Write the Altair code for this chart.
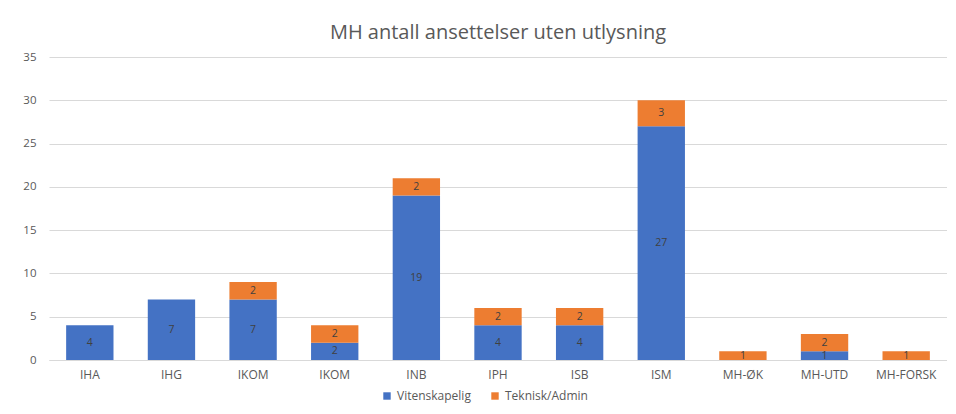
import altair as alt
import pandas as pd

categories = ["IHA", "IHG", "IKOM", "IKOM", "INB", "IPH", "ISB", "ISM", "MH-ØK", "MH-UTD", "MH-FORSK"]
vitenskapelig = [4, 7, 7, 2, 19, 4, 4, 27, 0, 1, 0]
teknisk_admin = [0, 0, 2, 2, 2, 2, 2, 3, 1, 2, 1]
series_names = ["Vitenskapelig", "Teknisk/Admin"]
colors = ["#4472C4", "#ED7D31"]

keys = [f"{c}#{i}" for i, c in enumerate(categories)]
rows = []
for k, v, t in zip(keys, vitenskapelig, teknisk_admin):
    rows.append({"key": k, "serie": series_names[0], "ord": 0, "value": v})
    rows.append({"key": k, "serie": series_names[1], "ord": 1, "value": t})
df = pd.DataFrame(rows)

FONT = "Open Sans"

base = alt.Chart(df).transform_stack(
    stack="value", groupby=["key"], as_=["y0", "y1"], sort=[alt.SortField("ord")]
).transform_calculate(mid="(datum.y0 + datum.y1) / 2")

x = alt.X("key:N", sort=keys, title=None,
          scale=alt.Scale(paddingInner=0.42, paddingOuter=0.21),
          axis=alt.Axis(labelExpr="split(datum.label, '#')[0]", labelAngle=0,
                        ticks=False, domainColor="#D9D9D9", labelColor="#595959",
                        labelFontSize=12, labelFont=FONT, labelPadding=9))

bars = base.transform_filter("datum.value > 0").mark_bar().encode(
    x=x,
    y=alt.Y("y0:Q", title=None, scale=alt.Scale(domain=[0, 35]),
            axis=alt.Axis(values=[0, 5, 10, 15, 20, 25, 30, 35], domain=False, ticks=False,
                          gridColor="#D9D9D9", labelColor="#595959", labelFontSize=11.5,
                          labelFont=FONT, labelPadding=13)),
    y2="y1:Q",
    color=alt.Color("serie:N", sort=series_names,
                    scale=alt.Scale(domain=series_names, range=colors),
                    legend=alt.Legend(title=None, orient="none", direction="horizontal",
                                      legendX=332, legendY=333, symbolType="square",
                                      symbolSize=55, labelFontSize=12, labelFont=FONT,
                                      labelColor="#595959", columnPadding=18,
                                      symbolStrokeWidth=0)),
)

labels = base.transform_filter("datum.value > 0").mark_text(
    fontSize=10.5, font=FONT, color="#404040"
).encode(
    x=alt.X("key:N", sort=keys),
    y=alt.Y("mid:Q"),
    text=alt.Text("value:Q"),
)

chart = (bars + labels).properties(
    width=898, height=303,
    title=alt.TitleParams("MH antall ansettelser uten utlysning", fontSize=20, font=FONT,
                          fontWeight="normal", color="#595959", offset=8, anchor="middle"),
    autosize=alt.AutoSizeParams(type="none"),
    padding={"left": 41, "top": 49, "right": 0, "bottom": 46},
).configure_view(stroke=None)

chart.save("out.html", embed_options={"renderer": "svg", "actions": False})
